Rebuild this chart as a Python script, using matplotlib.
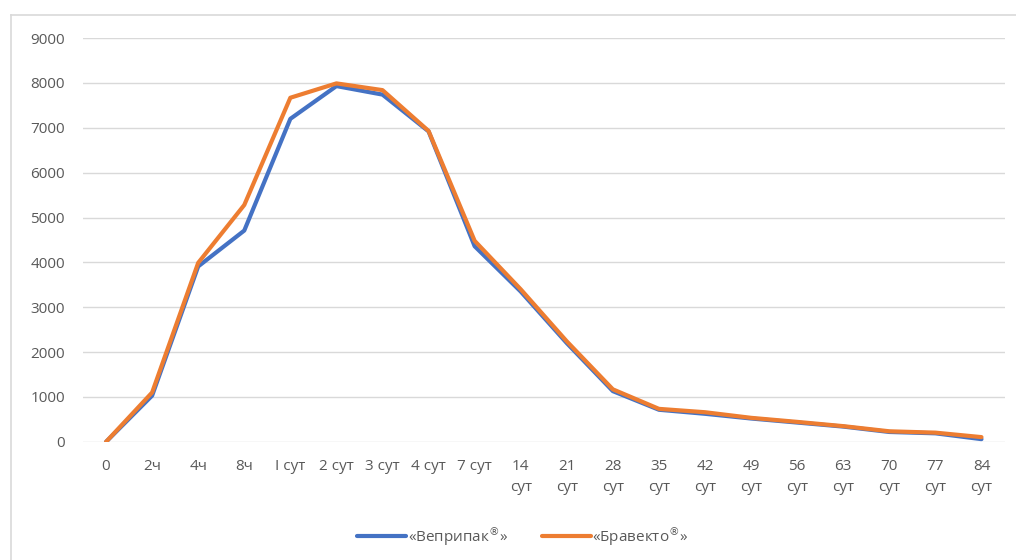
import matplotlib.pyplot as plt
from matplotlib.lines import Line2D

plt.rcParams['font.family'] = ['Open Sans', 'DejaVu Sans']

labels = ['0', '2ч', '4ч', '8ч', 'I сут', '2 сут', '3 сут', '4 сут', '7 сут',
          '14\nсут', '21\nсут', '28\nсут', '35\nсут', '42\nсут', '49\nсут',
          '56\nсут', '63\nсут', '70\nсут', '77\nсут', '84\nсут']
vepripak = [0, 1030, 3910, 4710, 7200, 7930, 7740, 6920, 4360, 3350,
            2200, 1130, 715, 625, 520, 430, 340, 220, 190, 60]
bravecto = [0, 1100, 3990, 5280, 7670, 7990, 7840, 6930, 4480, 3400,
            2240, 1170, 735, 660, 535, 445, 350, 235, 205, 105]

fig = plt.figure(figsize=(10.16, 5.6), dpi=100)
ax = fig.add_axes([0.0817, 0.211, 0.907, 0.721])

x = range(len(labels))
ax.plot(x, vepripak, color='#4472C4', lw=3, label='«Веприпак$^{®}$»', solid_capstyle='round', zorder=3)
ax.plot(x, bravecto, color='#ED7D31', lw=3, label='«Бравекто$^{®}$»', solid_capstyle='round', zorder=4)

ax.set_xlim(-0.5, len(labels) - 0.5)
ax.set_ylim(0, 9000)
ax.set_yticks(range(0, 9001, 1000))
ax.set_xticks(list(x))
ax.set_xticklabels(labels, linespacing=1.6)
ax.grid(axis='y', color='#D9D9D9', lw=1)
ax.set_axisbelow(True)
for s in ax.spines.values():
    s.set_visible(False)
ax.tick_params(axis='both', length=0, labelsize=11, colors='#595959')
ax.tick_params(axis='y', pad=13)
ax.tick_params(axis='x', pad=12)

fig.legend(loc='center', bbox_to_anchor=(0.515, 0.043), ncol=2, frameon=False,
           fontsize=11, labelcolor='#595959', handlelength=3.2, handletextpad=0.1,
           columnspacing=2.2)

# chart frame: only left and top edges visible in the reference
fig.add_artist(Line2D([0.0105, 0.0105], [0.0, 0.974], transform=fig.transFigure,
                      color='#D9D9D9', lw=1.2))
fig.add_artist(Line2D([0.0105, 1.0], [0.974, 0.974], transform=fig.transFigure,
                      color='#D9D9D9', lw=1.2))

fig.savefig('out.png', dpi=100)
